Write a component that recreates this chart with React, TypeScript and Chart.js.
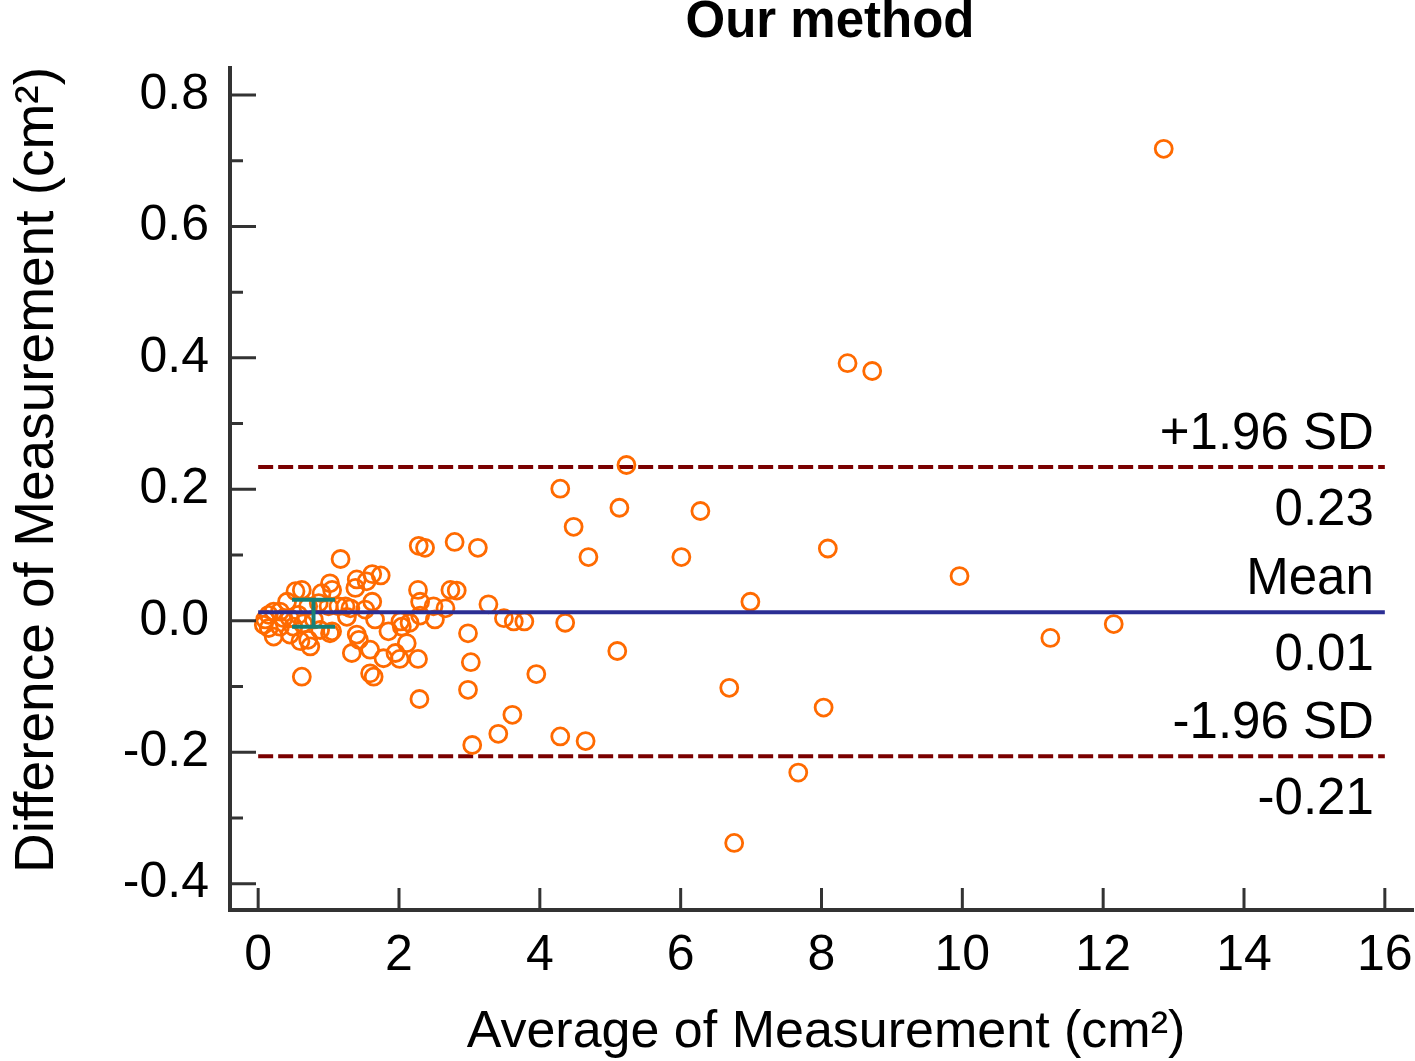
import React, { useEffect, useRef } from "react";
import { Chart, registerables } from "chart.js";

Chart.register(...registerables);

// ---- Data ----
const avgValues = [
  0.08, 0.10, 0.15, 0.15, 0.22, 0.22, 0.31, 0.31, 0.36, 0.41,
  0.45, 0.45, 0.50, 0.53, 0.57, 0.60, 0.62, 0.62, 0.64, 0.71,
  0.71, 0.74, 0.79, 0.86, 0.88, 0.90, 1.00, 1.02, 1.02, 1.05,
  1.05, 1.14, 1.17, 1.24, 1.26, 1.31, 1.33, 1.38, 1.40, 1.40,
  1.43, 1.52, 1.54, 1.59, 1.59, 1.62, 1.62, 1.64, 1.66, 1.74,
  1.78, 1.85, 1.95, 2.01, 2.02, 2.04, 2.11, 2.15, 2.27, 2.27,
  2.28, 2.29, 2.30, 2.30, 2.37, 2.49, 2.51, 2.66, 2.73, 2.79,
  2.82, 2.98, 2.98, 3.02, 3.04, 3.12, 3.27, 3.41, 3.49, 3.61,
  3.63, 3.78, 3.95, 4.29, 4.29, 4.36, 4.48, 4.65, 4.69, 5.10,
  5.13, 5.23, 6.01, 6.28, 6.69, 6.76, 6.99, 7.67, 8.03, 8.09,
  8.37, 8.72, 9.96, 11.25, 12.15, 12.86,
];
const diffValues = [
  -0.006, 0.002, 0.009, -0.011, 0.014, -0.024, 0.014, -0.009, 0.004, 0.029,
  0.004, -0.021, -0.009, 0.045, 0.009, -0.031, 0.047, -0.085, -0.004, 0.022,
  -0.029, -0.039, 0.002, 0.027, -0.014, 0.042, 0.022, 0.057, -0.019, 0.047,
  -0.016, 0.022, 0.094, 0.022, 0.006, 0.019, -0.049, 0.050, 0.063, -0.021,
  -0.029, 0.017, 0.060, -0.044, -0.080, 0.071, 0.029, -0.085, 0.002, 0.069,
  -0.057, -0.016, -0.049, -0.058, -0.001, -0.009, -0.034, -0.003, 0.047, -0.058,
  0.114, -0.119, 0.029, 0.008, 0.111, 0.022, 0.002, 0.019, 0.047, 0.120,
  0.046, -0.019, -0.105, -0.063, -0.189, 0.111, 0.025, -0.172, 0.004, -0.143,
  -0.001, -0.001, -0.081, 0.201, -0.176, -0.003, 0.143, -0.183, 0.097, -0.046,
  0.172, 0.237, 0.097, 0.167, -0.102, -0.338, 0.029, -0.231, -0.132, 0.110,
  0.392, 0.380, 0.068, -0.026, -0.005, 0.718,
];

const xTickValues = [0, 2, 4, 6, 8, 10, 12, 14, 16];
const yTickValues = [-0.4, -0.2, 0, 0.2, 0.4, 0.6, 0.8];
const yMinorTickValues = [-0.3, -0.1, 0.1, 0.3, 0.5, 0.7];

const lineStartX = 0;
const lineEndX = 16;
const meanDiff = 0.013;
const upperLimit = 0.234;
const lowerLimit = -0.206;

const refLineValues = [upperLimit, meanDiff, lowerLimit];
const labelsAbove = ["+1.96 SD", "Mean", "-1.96 SD"];
const labelsBelow = ["0.23", "0.01", "-0.21"];

const errorBarX = 0.786;
const errorBarLow = -0.009;
const errorBarHigh = 0.032;

const chartTitle = "Our method";
const xAxisTitle = "Average of Measurement (cm\u00B2)";
const yAxisTitle = "Difference of Measurement (cm\u00B2)";

const FONT = "'Liberation Sans', Arial, Helvetica, sans-serif";
const AXIS_COLOR = "#333333";

const decorPlugin = {
  id: "decor",
  afterDraw(chart: any) {
    const ctx = chart.ctx;
    const xs = chart.scales.x;
    const ys = chart.scales.y;
    const area = chart.chartArea;
    ctx.save();

    // inward tick marks
    ctx.strokeStyle = AXIS_COLOR;
    ctx.lineWidth = 3;
    ctx.beginPath();
    xTickValues.forEach((v) => {
      const px = xs.getPixelForValue(v);
      ctx.moveTo(px, area.bottom);
      ctx.lineTo(px, area.bottom - 22);
    });
    yTickValues.forEach((v) => {
      const py = ys.getPixelForValue(v);
      ctx.moveTo(area.left, py);
      ctx.lineTo(area.left + 26, py);
    });
    yMinorTickValues.forEach((v) => {
      const py = ys.getPixelForValue(v);
      ctx.moveTo(area.left, py);
      ctx.lineTo(area.left + 13, py);
    });
    ctx.stroke();

    // error bar
    const ex = xs.getPixelForValue(errorBarX);
    const eTop = ys.getPixelForValue(errorBarHigh);
    const eBot = ys.getPixelForValue(errorBarLow);
    ctx.strokeStyle = "#168077";
    ctx.lineWidth = 4;
    ctx.beginPath();
    ctx.moveTo(ex, eTop);
    ctx.lineTo(ex, eBot);
    ctx.moveTo(ex - 21.5, eTop);
    ctx.lineTo(ex + 21.5, eTop);
    ctx.moveTo(ex - 21.5, eBot);
    ctx.lineTo(ex + 21.5, eBot);
    ctx.stroke();

    // reference line labels
    ctx.fillStyle = "#000";
    ctx.font = `51px ${FONT}`;
    ctx.textAlign = "right";
    ctx.textBaseline = "alphabetic";
    const lx = xs.getPixelForValue(lineEndX) - 11;
    refLineValues.forEach((v, i) => {
      const py = ys.getPixelForValue(v);
      ctx.fillText(labelsAbove[i], lx, py - 36 + 18);
      ctx.fillText(labelsBelow[i], lx, py + 40 + 18);
    });

    // chart title
    ctx.textAlign = "center";
    ctx.font = `bold 51px ${FONT}`;
    ctx.fillText(chartTitle, 830, 37);

    // x axis title
    ctx.font = `52px ${FONT}`;
    ctx.fillText(xAxisTitle, 826, 1047);

    // y axis title
    ctx.save();
    ctx.translate(53, 470);
    ctx.rotate(-Math.PI / 2);
    ctx.font = `55px ${FONT}`;
    ctx.fillText(yAxisTitle, 0, 0);
    ctx.restore();

    ctx.restore();
  },
};

export default function App() {
  const canvasRef = useRef<HTMLCanvasElement | null>(null);

  useEffect(() => {
    const canvas = canvasRef.current;
    if (!canvas) return;

    const points = avgValues.map((x, i) => ({ x, y: diffValues[i] }));
    const mkLine = (y: number) => [
      { x: lineStartX, y },
      { x: lineEndX, y },
    ];

    const chart = new Chart(canvas, {
      type: "scatter",
      data: {
        datasets: [
          {
            label: "upper",
            data: mkLine(upperLimit),
            showLine: true,
            borderColor: "#7a0000",
            borderWidth: 4,
            borderDash: [15, 5],
            pointRadius: 0,
            order: 3,
          },
          {
            label: "lower",
            data: mkLine(lowerLimit),
            showLine: true,
            borderColor: "#7a0000",
            borderWidth: 4,
            borderDash: [15, 5],
            pointRadius: 0,
            order: 3,
          },
          {
            label: "points",
            data: points,
            pointStyle: "circle",
            pointRadius: 8.5,
            pointBorderWidth: 2.8,
            borderColor: "#ff6a00",
            pointBorderColor: "#ff6a00",
            backgroundColor: "rgba(0,0,0,0)",
            pointBackgroundColor: "rgba(0,0,0,0)",
            showLine: false,
            order: 2,
          },
          {
            label: "mean",
            data: mkLine(meanDiff),
            showLine: true,
            borderColor: "#2b2e94",
            borderWidth: 4,
            pointRadius: 0,
            order: 1,
          },
        ],
      },
      options: {
        animation: false,
        responsive: false,
        devicePixelRatio: 1,
        layout: { autoPadding: false, padding: { top: 68, right: 2, left: 0, bottom: 0 } },
        plugins: {
          legend: { display: false },
          tooltip: { enabled: false },
          title: { display: false },
        },
        scales: {
          x: {
            type: "linear",
            min: -0.4,
            max: 16.4,
            grid: { display: false, drawTicks: false },
            border: { display: true, color: AXIS_COLOR, width: 4 },
            afterBuildTicks: (s: any) => {
              s.ticks = xTickValues.map((v) => ({ value: v }));
            },
            afterFit: (s: any) => {
              s.height = 151;
              s.paddingLeft = 0;
              s.paddingRight = 0;
            },
            ticks: {
              color: "#000",
              font: { family: FONT, size: 50 },
              padding: 16,
              maxRotation: 0,
              autoSkip: false,
              callback: (v: any) => String(v),
            },
          },
          y: {
            type: "linear",
            min: -0.44,
            max: 0.841,
            grid: { display: false, drawTicks: false },
            border: { display: true, color: AXIS_COLOR, width: 4 },
            afterBuildTicks: (s: any) => {
              s.ticks = yTickValues.map((v) => ({ value: v }));
            },
            afterFit: (s: any) => {
              s.width = 230;
              s.paddingTop = 0;
              s.paddingBottom = 0;
            },
            ticks: {
              color: "#000",
              font: { family: FONT, size: 50 },
              padding: 21,
              autoSkip: false,
              callback: (v: any) => Number(v).toFixed(1),
            },
          },
        },
      },
      plugins: [decorPlugin],
    } as any);

    return () => {
      chart.destroy();
    };
  }, []);

  return (
    <div
      style={{
        position: "absolute",
        left: 0,
        top: 0,
        width: 1415,
        height: 1061,
        background: "#fff",
      }}
    >
      <canvas ref={canvasRef} width={1415} height={1061} style={{ display: "block" }} />
    </div>
  );
}
